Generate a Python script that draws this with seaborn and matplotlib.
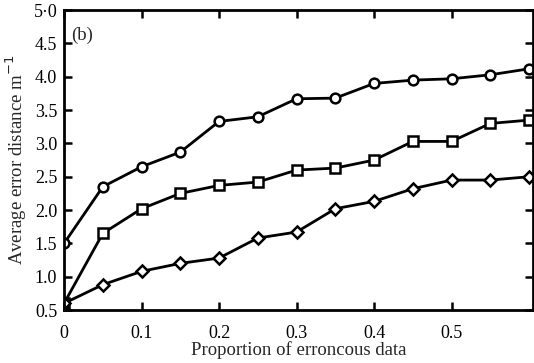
import matplotlib
matplotlib.use("Agg")
import matplotlib.pyplot as plt
import numpy as np
import pandas as pd
import seaborn as sns

# Proportion of erroneous data
proportion = [0.0, 0.05, 0.10, 0.15, 0.20, 0.25, 0.30, 0.35, 0.40, 0.45, 0.50, 0.55, 0.60]

# Average error distance for the three curves
circle_vals = [1.50, 2.35, 2.65, 2.87, 3.33, 3.40, 3.67, 3.68, 3.90, 3.95, 3.97, 4.03, 4.12]
square_vals = [0.60, 1.65, 2.02, 2.25, 2.37, 2.42, 2.60, 2.63, 2.75, 3.03, 3.03, 3.30, 3.35]
diamond_vals = [0.60, 0.88, 1.08, 1.20, 1.28, 1.58, 1.67, 2.02, 2.13, 2.32, 2.45, 2.45, 2.50]

x_ticks = [0, 0.1, 0.2, 0.3, 0.4, 0.5]
x_tick_labels = ["0", "0.1", "0.2", "0.3", "0.4", "0.5"]
y_ticks = [0.5, 1.0, 1.5, 2.0, 2.5, 3.0, 3.5, 4.0, 4.5, 5.0]
y_tick_labels = ["0.5", "1.0", "1.5", "2.0", "2.5", "3.0", "3.5", "4.0", "4.5", "5\u00b70"]

sns.set_theme(style="ticks")
plt.rcParams["font.family"] = ["Liberation Serif", "DejaVu Serif"]

fig = plt.figure(figsize=(5.34, 3.63), dpi=100)
ax = fig.add_axes([0.12, 0.146, 0.878, 0.826])

series = [(circle_vals, "o", 7), (square_vals, "s", 7), (diamond_vals, "D", 6.5)]
for vals, mk, ms in series:
    df = pd.DataFrame({"x": proportion, "y": vals})
    sns.lineplot(data=df, x="x", y="y", ax=ax, color="black", linewidth=2,
                 marker=mk, markersize=ms, markerfacecolor="white",
                 markeredgecolor="black", markeredgewidth=1.8)

ax.set_xlim(0, 0.605)
ax.set_ylim(0.5, 5.0)
ax.set_xticks(x_ticks)
ax.set_xticklabels(x_tick_labels)
ax.set_yticks(y_ticks)
ax.set_yticklabels(y_tick_labels)
ax.tick_params(direction="in", length=6, width=1.8, top=True, right=True,
               labelsize=13, colors="black")
ax.tick_params(axis="x", pad=11)
ax.tick_params(axis="y", pad=5)
for s in ax.spines.values():
    s.set_linewidth(2)
    s.set_color("black")

ax.set_xlabel("Proportion of erroncous data", fontsize=13.5, labelpad=-1)
ax.set_ylabel("Average error distance m$^{-1}$", fontsize=13.5, labelpad=3)
ax.text(0.015, 0.945, "(b)", transform=ax.transAxes, fontsize=13.5, va="top")

fig.savefig("out.png", dpi=100)
